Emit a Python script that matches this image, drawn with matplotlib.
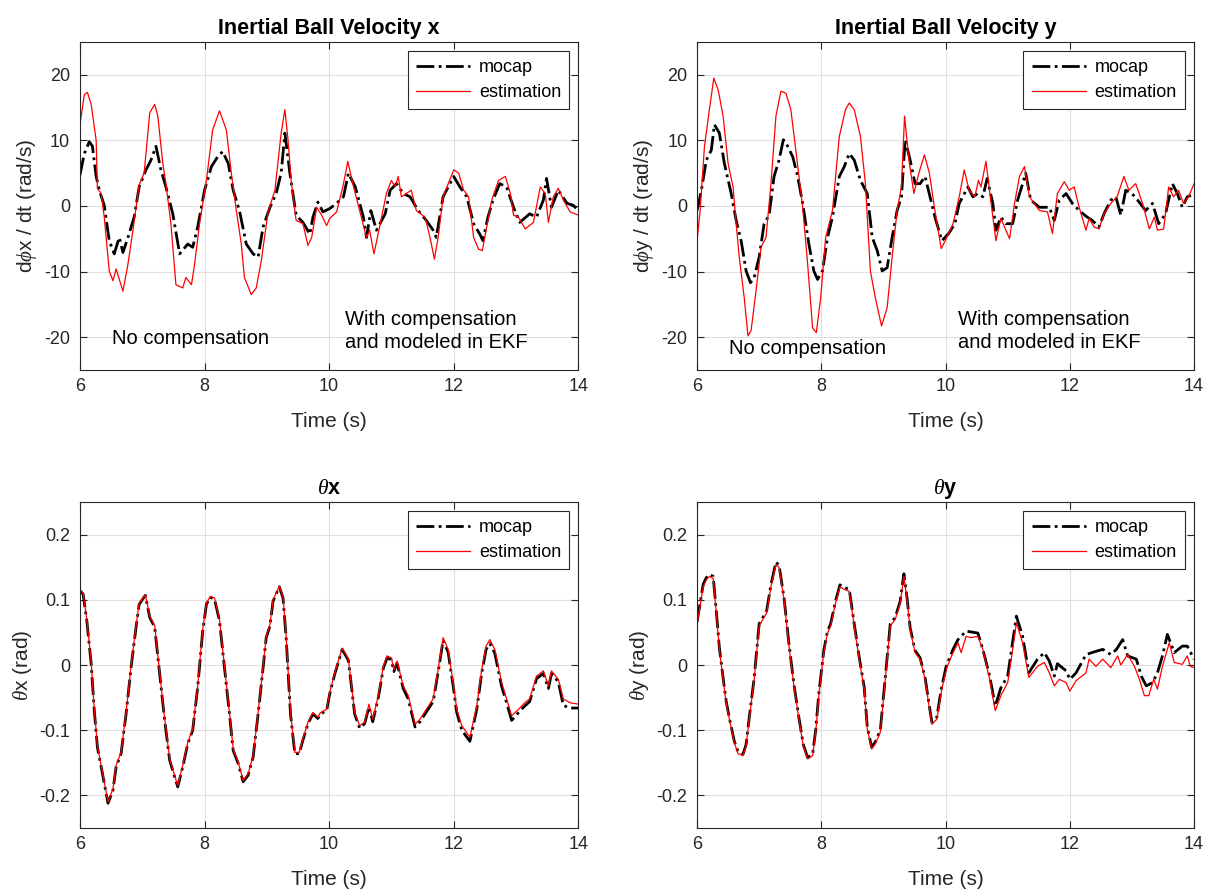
import numpy as np
import matplotlib
matplotlib.use("Agg")
from matplotlib import pyplot as plt

plt.rcParams["font.family"] = ["Liberation Sans", "DejaVu Sans"]
plt.rcParams["axes.unicode_minus"] = False
plt.rcParams["mathtext.fontset"] = "custom"
plt.rcParams["mathtext.it"] = "Liberation Serif:italic"
plt.rcParams["mathtext.rm"] = "Liberation Sans"

# ---- ball velocity x (rad/s) ----
t_vx_est = [6.0, 6.07, 6.12, 6.18, 6.26, 6.28, 6.34, 6.39, 6.47, 6.53, 6.58, 6.69, 6.77, 6.85,
            6.95, 7.03, 7.12, 7.2, 7.25, 7.33, 7.38, 7.46, 7.54, 7.65, 7.7, 7.79, 7.84, 7.92,
            8.03, 8.13, 8.24, 8.35, 8.43, 8.51, 8.59, 8.64, 8.75, 8.83, 8.91, 9.02, 9.13, 9.23,
            9.29, 9.34, 9.39, 9.47, 9.58, 9.66, 9.72, 9.8, 9.88, 9.96, 10.01, 10.12, 10.22, 10.3,
            10.38, 10.49, 10.6, 10.65, 10.72, 10.81, 10.92, 11.0, 11.06, 11.11, 11.16, 11.24,
            11.32, 11.4, 11.54, 11.62, 11.69, 11.75, 11.83, 12.0, 12.08, 12.16, 12.24, 12.32,
            12.4, 12.46, 12.53, 12.61, 12.72, 12.83, 12.91, 12.96, 13.04, 13.15, 13.28, 13.39,
            13.47, 13.52, 13.6, 13.68, 13.76, 13.87, 14.0]
vx_est = [12.4, 17.0, 17.3, 15.5, 10.0, 2.7, 1.9, -1.7, -9.9, -11.4, -9.6, -13.0, -8.9, -3.7,
          3.2, 5.0, 14.2, 15.5, 13.7, 6.5, 3.4, -2.7, -12.0, -12.5, -10.9, -12.0, -8.9, -2.7,
          3.9, 11.6, 14.5, 11.6, 5.0, -0.7, -5.8, -10.9, -13.5, -12.5, -8.4, -0.9, 2.4, 11.1,
          14.7, 10.1, 3.9, -2.2, -2.7, -6.0, -4.8, -0.2, -1.4, -3.0, -1.9, -0.9, 2.9, 6.8,
          3.4, -0.7, -4.8, -3.7, -7.3, -3.2, 1.9, 3.9, 2.9, 4.5, 1.4, 1.9,
          2.4, -0.7, -1.7, -4.8, -8.1, -4.8, 1.4, 5.5, 5.0, 2.4, 1.4, -4.8,
          -6.6, -6.8, -3.2, 0.9, 3.9, 4.5, 1.9, -1.4, -1.7, -3.5, -2.5, 2.9,
          1.9, -2.5, 1.4, 2.7, 0.9, -0.9, -1.4]

t_vx_moc = [6.0, 6.07, 6.15, 6.2, 6.26, 6.31, 6.39, 6.47, 6.55, 6.63, 6.69, 6.77, 6.87, 6.95,
            7.06, 7.14, 7.22, 7.3, 7.38, 7.49, 7.6, 7.73, 7.81, 7.89, 8.0, 8.11, 8.21, 8.29,
            8.38, 8.46, 8.56, 8.67, 8.78, 8.86, 8.94, 9.05, 9.15, 9.23, 9.29, 9.37, 9.47, 9.58,
            9.69, 9.74, 9.82, 9.9, 10.01, 10.12, 10.23, 10.31, 10.42, 10.55, 10.6, 10.67, 10.76,
            10.9, 10.98, 11.08, 11.19, 11.3, 11.43, 11.56, 11.67, 11.72, 11.83, 12.0, 12.1,
            12.21, 12.32, 12.42, 12.47, 12.55, 12.63, 12.74, 12.85, 12.96, 13.06, 13.22, 13.33,
            13.44, 13.49, 13.57, 13.68, 13.82, 13.92, 14.0]
vx_moc = [4.7, 8.0, 9.8, 9.1, 4.5, 2.4, 0.1, -5.3, -7.3, -4.8, -7.1, -4.8, -1.7, 2.9,
          5.5, 7.0, 9.1, 5.5, 2.9, -1.2, -7.3, -5.8, -6.3, -3.2, 2.4, 6.0, 7.5, 8.3,
          6.5, 2.4, -0.7, -5.8, -7.3, -7.8, -3.2, -0.2, 1.9, 5.0, 11.1, 5.0, -1.4, -2.5,
          -4.3, -1.7, 0.6, -0.9, -0.4, 0.4, 1.4, 5.0, 2.9, -1.7, -4.8, -0.7, -3.7,
          -1.2, 2.4, 3.4, 1.9, 1.4, -0.7, -2.2, -3.7, -4.8, 1.4, 4.5, 2.9,
          1.4, -2.7, -4.3, -5.3, -1.7, 0.9, 3.4, 2.9, -0.2, -2.5, -1.2, -1.7,
          0.9, 4.2, -0.2, 2.4, 0.4, 0.1, -0.7]

# ---- ball velocity y (rad/s) ----
t_vy_est = [6.0, 6.05, 6.12, 6.2, 6.27, 6.34, 6.42, 6.5, 6.58, 6.63, 6.68, 6.76, 6.82, 6.87,
            6.95, 7.03, 7.11, 7.19, 7.27, 7.35, 7.43, 7.51, 7.59, 7.7, 7.78, 7.86, 7.92, 7.99,
            8.07, 8.18, 8.29, 8.39, 8.45, 8.53, 8.63, 8.71, 8.79, 8.87, 8.97, 9.06, 9.14, 9.22,
            9.29, 9.34, 9.41, 9.49, 9.57, 9.66, 9.74, 9.82, 9.93, 10.01, 10.12, 10.22, 10.3,
            10.38, 10.47, 10.53, 10.57, 10.65, 10.72, 10.81, 10.89, 11.03, 11.11, 11.19, 11.27,
            11.35, 11.51, 11.64, 11.72, 11.8, 11.91, 11.99, 12.07, 12.15, 12.26, 12.31, 12.39,
            12.47, 12.55, 12.66, 12.76, 12.87, 12.95, 13.06, 13.17, 13.28, 13.36, 13.41, 13.51,
            13.59, 13.67, 13.75, 13.83, 13.91, 14.0]
vy_est = [-5.3, -0.7, 9.1, 14.7, 19.5, 17.7, 13.7, 6.5, 2.9, -2.7, -7.8, -14.0, -19.8, -19.0,
          -12.9, -6.3, -4.8, 3.4, 13.7, 17.5, 17.2, 14.7, 8.5, -0.2, -8.8, -18.6, -19.3, -14.0,
          -4.8, -0.7, 10.6, 14.7, 15.7, 14.7, 10.6, 3.4, -9.9, -14.0, -18.3, -15.5, -7.8, -0.7,
          2.9, 13.7, 7.0, 1.9, 5.0, 7.8, 5.0, -0.2, -6.5, -5.0, -2.7, 1.4, 5.5,
          2.4, 1.4, 3.9, 2.9, 6.8, 1.4, -5.3, -1.9, -5.0, 0.4, 4.5, 6.0,
          1.4, -0.7, -0.9, -4.2, 1.9, 3.7, 2.4, 2.9, -0.2, -3.7, -1.9, -3.2,
          -3.5, -1.2, 0.4, 1.4, 4.5, 2.4, 3.4, 0.4, -3.5, -1.7, -3.7, -3.5,
          2.9, 1.4, 2.4, 0.4, 1.4, 3.4]

t_vy_moc = [6.0, 6.07, 6.15, 6.23, 6.28, 6.36, 6.44, 6.55, 6.63, 6.71, 6.79, 6.86, 6.92, 7.0,
            7.08, 7.16, 7.24, 7.32, 7.39, 7.46, 7.54, 7.62, 7.7, 7.8, 7.88, 7.94, 8.02, 8.1,
            8.18, 8.29, 8.37, 8.45, 8.53, 8.63, 8.74, 8.82, 8.9, 8.98, 9.06, 9.14, 9.22, 9.29,
            9.35, 9.43, 9.51, 9.59, 9.67, 9.75, 9.83, 9.94, 10.05, 10.15, 10.22, 10.36, 10.44,
            10.52, 10.6, 10.67, 10.76, 10.81, 10.89, 10.97, 11.08, 11.16, 11.24, 11.29, 11.37,
            11.51, 11.67, 11.75, 11.83, 11.94, 12.04, 12.15, 12.28, 12.36, 12.47, 12.55, 12.66,
            12.74, 12.82, 12.9, 13.0, 13.09, 13.22, 13.33, 13.43, 13.54, 13.65, 13.73, 13.81,
            13.89, 13.95]
vy_moc = [-0.7, 2.4, 7.0, 8.5, 12.4, 11.1, 6.5, 1.9, -2.2, -5.3, -9.9, -11.7, -10.9, -7.8,
          -2.7, -1.4, 4.5, 7.0, 10.1, 9.1, 7.5, 4.5, 0.4, -5.8, -9.9, -11.2, -9.9, -4.8,
          -1.7, 4.5, 6.0, 8.0, 7.0, 3.9, 1.9, -4.8, -6.8, -9.9, -9.4, -4.8, -0.7, 1.4,
          10.1, 7.0, 3.4, 3.4, 4.5, 1.4, -1.7, -5.3, -4.2, -2.7, 0.4, 2.9, 1.4,
          1.9, 1.4, 4.2, 0.4, -3.7, -1.7, -2.7, -2.7, 0.9, 3.4, 5.0, 0.9,
          -0.2, -0.2, -2.2, 0.9, 1.9, 0.4, -0.7, -1.7, -2.2, -3.2, -1.2, 0.9,
          1.4, -1.4, 2.4, 1.9, 0.9, -0.7, 0.4, -2.7, -1.2, 3.4, 1.9, -0.2,
          1.4, 1.6]

# ---- theta x (rad) ----
t_thx_est = [6.0, 6.05, 6.11, 6.18, 6.23, 6.28, 6.36, 6.45, 6.53, 6.58, 6.66, 6.74, 6.82, 6.9,
             6.95, 7.05, 7.12, 7.2, 7.28, 7.36, 7.44, 7.49, 7.57, 7.65, 7.73, 7.81, 7.89, 7.97,
             8.03, 8.09, 8.16, 8.24, 8.32, 8.4, 8.46, 8.54, 8.62, 8.7, 8.78, 8.86, 8.94, 8.99,
             9.05, 9.1, 9.2, 9.26, 9.31, 9.38, 9.45, 9.52, 9.58, 9.66, 9.74, 9.82, 9.86, 9.96,
             10.01, 10.09, 10.14, 10.21, 10.31, 10.36, 10.41, 10.49, 10.57, 10.64, 10.7, 10.79,
             10.87, 10.93, 11.0, 11.04, 11.09, 11.19, 11.27, 11.38, 11.46, 11.56, 11.67, 11.75,
             11.83, 11.91, 11.99, 12.05, 12.13, 12.26, 12.37, 12.45, 12.52, 12.58, 12.66, 12.77,
             12.85, 12.93, 13.04, 13.14, 13.22, 13.33, 13.44, 13.52, 13.57, 13.68, 13.76, 13.87,
             14.0]
thx_est = [0.116, 0.11, 0.07, 0.004, -0.068, -0.124, -0.164, -0.21, -0.19, -0.154, -0.134,
           -0.073, -0.002, 0.06, 0.095, 0.108, 0.075, 0.06, -0.012, -0.083, -0.144, -0.16,
           -0.185, -0.154, -0.119, -0.098, -0.032, 0.054, 0.095, 0.105, 0.103, 0.07, -0.002,
           -0.073, -0.129, -0.149, -0.177, -0.167, -0.139, -0.073, -0.002, 0.044, 0.062, 0.1,
           0.121, 0.105, 0.044, -0.073, -0.134, -0.134, -0.113, -0.088, -0.073, -0.08, -0.073,
           -0.068, -0.042, -0.012, 0.004, 0.026, 0.009, -0.032, -0.073, -0.093, -0.088, -0.06,
           -0.083, -0.047, -0.002, 0.014, 0.011, -0.007, 0.006, -0.032, -0.047, -0.091, -0.083,
           -0.068, -0.052, -0.007, 0.042, 0.024, -0.027, -0.068, -0.093, -0.111, -0.063, -0.007,
           0.029, 0.039, 0.024, -0.027, -0.052, -0.078, -0.068, -0.058, -0.052, -0.017, -0.009,
           -0.032, -0.009, -0.022, -0.052, -0.058, -0.06]

t_thx_moc = [6.0, 6.05, 6.11, 6.18, 6.23, 6.28, 6.36, 6.45, 6.53, 6.58, 6.66, 6.74, 6.82, 6.9,
             6.95, 7.05, 7.12, 7.2, 7.28, 7.36, 7.44, 7.49, 7.57, 7.65, 7.73, 7.81, 7.89, 7.97,
             8.03, 8.09, 8.16, 8.24, 8.32, 8.4, 8.46, 8.54, 8.62, 8.7, 8.78, 8.86, 8.94, 8.99,
             9.05, 9.1, 9.2, 9.26, 9.31, 9.38, 9.45, 9.52, 9.58, 9.66, 9.74, 9.82, 9.86, 9.96,
             10.01, 10.09, 10.14, 10.21, 10.31, 10.36, 10.41, 10.49, 10.57, 10.64, 10.7, 10.79,
             10.87, 10.93, 11.0, 11.04, 11.09, 11.19, 11.27, 11.38, 11.46, 11.56, 11.67, 11.75,
             11.83, 11.91, 11.99, 12.05, 12.13, 12.26, 12.37, 12.45, 12.52, 12.58, 12.66, 12.77,
             12.85, 12.93, 13.04, 13.14, 13.22, 13.33, 13.44, 13.52, 13.57, 13.68, 13.76, 13.87,
             14.0]
thx_moc = [0.114, 0.109, 0.068, 0.002, -0.07, -0.126, -0.166, -0.212, -0.192, -0.156, -0.136,
           -0.075, -0.004, 0.058, 0.093, 0.107, 0.073, 0.058, -0.014, -0.085, -0.146, -0.162,
           -0.187, -0.156, -0.121, -0.1, -0.034, 0.052, 0.093, 0.104, 0.101, 0.068, -0.004,
           -0.075, -0.131, -0.151, -0.179, -0.169, -0.141, -0.075, -0.004, 0.042, 0.06, 0.098,
           0.12, 0.103, 0.042, -0.075, -0.136, -0.136, -0.115, -0.09, -0.075, -0.082, -0.075,
           -0.07, -0.044, -0.014, 0.002, 0.024, 0.007, -0.034, -0.075, -0.097, -0.09, -0.064,
           -0.087, -0.05, -0.005, 0.011, 0.008, -0.01, 0.003, -0.036, -0.052, -0.095, -0.087,
           -0.072, -0.056, -0.011, 0.038, 0.02, -0.031, -0.073, -0.1, -0.117, -0.068, -0.012,
           0.024, 0.033, 0.018, -0.033, -0.058, -0.085, -0.073, -0.063, -0.056, -0.021, -0.013,
           -0.036, -0.013, -0.026, -0.062, -0.066, -0.066]

# ---- theta y (rad) ----
t_thy_est = [6.0, 6.04, 6.1, 6.15, 6.2, 6.26, 6.31, 6.36, 6.42, 6.47, 6.52, 6.6, 6.66, 6.74,
             6.79, 6.84, 6.92, 7.0, 7.06, 7.12, 7.19, 7.27, 7.32, 7.4, 7.48, 7.56, 7.64, 7.71,
             7.78, 7.86, 7.91, 7.96, 8.04, 8.1, 8.15, 8.23, 8.3, 8.37, 8.45, 8.53, 8.61, 8.69,
             8.74, 8.81, 8.87, 8.95, 9.03, 9.11, 9.19, 9.27, 9.33, 9.38, 9.43, 9.51, 9.59, 9.67,
             9.75, 9.78, 9.86, 9.94, 10.02, 10.12, 10.2, 10.25, 10.33, 10.41, 10.52, 10.6, 10.71,
             10.8, 10.89, 11.0, 11.08, 11.14, 11.24, 11.34, 11.48, 11.59, 11.67, 11.75, 11.83,
             11.94, 12.0, 12.1, 12.26, 12.31, 12.42, 12.53, 12.66, 12.77, 12.82, 12.93, 13.04,
             13.12, 13.2, 13.27, 13.35, 13.41, 13.49, 13.6, 13.68, 13.81, 13.89, 13.94, 14.0]
thy_est = [0.062, 0.085, 0.12, 0.131, 0.136, 0.133, 0.08, 0.024, -0.022, -0.058, -0.083,
           -0.119, -0.136, -0.139, -0.124, -0.083, -0.022, 0.06, 0.07, 0.08, 0.12, 0.154, 0.15,
           0.1, 0.029, -0.032, -0.083, -0.124, -0.144, -0.139, -0.103, -0.047, 0.019, 0.049,
           0.06, 0.095, 0.12, 0.116, 0.113, 0.06, 0.009, -0.037, -0.098, -0.129, -0.121, -0.103,
           -0.022, 0.06, 0.07, 0.095, 0.136, 0.1, 0.054, 0.019, 0.009, -0.022, -0.073, -0.091,
           -0.083, -0.037, -0.004, 0.019, 0.034, 0.019, 0.044, 0.042, 0.044, 0.024, -0.022,
           -0.07, -0.047, -0.027, 0.024, 0.065, 0.034, -0.019, -0.002, 0.004, -0.012, -0.032,
           -0.022, -0.027, -0.04, -0.024, -0.012, 0.009, -0.002, 0.009, -0.004, 0.014, 0.0,
           0.016, -0.002, -0.022, -0.047, -0.047, -0.022, -0.037, -0.002, 0.034, 0.004, 0.001,
           0.014, -0.002, -0.004]

t_thy_moc = [6.0, 6.04, 6.1, 6.15, 6.2, 6.26, 6.31, 6.36, 6.42, 6.47, 6.52, 6.6, 6.66, 6.74,
             6.79, 6.84, 6.92, 7.0, 7.06, 7.12, 7.19, 7.27, 7.32, 7.4, 7.48, 7.56, 7.64, 7.71,
             7.78, 7.86, 7.91, 7.96, 8.04, 8.1, 8.15, 8.23, 8.3, 8.37, 8.45, 8.53, 8.61, 8.69,
             8.74, 8.81, 8.87, 8.95, 9.03, 9.11, 9.19, 9.27, 9.33, 9.38, 9.43, 9.51, 9.59, 9.67,
             9.75, 9.78, 9.86, 9.93, 10.01, 10.12, 10.2, 10.33, 10.52, 10.6, 10.71, 10.8, 10.89,
             11.0, 11.14, 11.24, 11.34, 11.48, 11.59, 11.67, 11.75, 11.8, 11.94, 12.0, 12.1,
             12.26, 12.42, 12.53, 12.66, 12.75, 12.85, 12.93, 13.07, 13.15, 13.23, 13.33, 13.41,
             13.49, 13.57, 13.68, 13.81, 13.89, 14.0]
thy_moc = [0.066, 0.089, 0.124, 0.134, 0.139, 0.136, 0.083, 0.026, -0.02, -0.056, -0.081,
           -0.117, -0.133, -0.137, -0.122, -0.081, -0.02, 0.063, 0.073, 0.083, 0.123, 0.158,
           0.153, 0.103, 0.032, -0.03, -0.081, -0.122, -0.142, -0.137, -0.1, -0.044, 0.022,
           0.052, 0.063, 0.098, 0.123, 0.119, 0.116, 0.063, 0.012, -0.034, -0.095, -0.126,
           -0.118, -0.1, -0.019, 0.063, 0.073, 0.098, 0.14, 0.103, 0.057, 0.022, 0.011, -0.019,
           -0.07, -0.088, -0.08, -0.037, -0.002, 0.024, 0.039, 0.052, 0.049, 0.024, -0.017,
           -0.063, -0.035, -0.017, 0.075, 0.044, -0.012, 0.009, 0.019, 0.006, -0.017, 0.002,
           -0.009, -0.022, -0.012, 0.016, 0.021, 0.024, 0.016, 0.024, 0.039, 0.014, 0.009,
           -0.017, -0.032, -0.027, -0.012, 0.014, 0.047, 0.019, 0.029, 0.029, 0.009]

panels = [
    ("Inertial Ball Velocity x", r"d$\it{\phi}$x / dt (rad/s)", t_vx_moc, vx_moc, t_vx_est, vx_est),
    ("Inertial Ball Velocity y", r"d$\it{\phi}$y / dt (rad/s)", t_vy_moc, vy_moc, t_vy_est, vy_est),
    (r"$\it{\theta}$x", r"$\it{\theta}$x (rad)", t_thx_moc, thx_moc, t_thx_est, thx_est),
    (r"$\it{\theta}$y", r"$\it{\theta}$y (rad)", t_thy_moc, thy_moc, t_thy_est, thy_est),
]

fig = plt.figure(figsize=(12.08, 8.93), dpi=100)
boxes = [[0.0662, 0.5857, 0.4125, 0.3673], [0.5770, 0.5857, 0.4115, 0.3673],
         [0.0662, 0.0728, 0.4125, 0.3650], [0.5770, 0.0728, 0.4115, 0.3650]]

for i, (title, ylab, tm, ym, te, ye) in enumerate(panels):
    ax = fig.add_axes(boxes[i])
    ax.plot(tm, ym, color="black", linestyle="-.", linewidth=2, label="mocap")
    ax.plot(te, ye, color="red", linewidth=0.9, label="estimation")
    ax.set_xlim(6, 14)
    ax.set_xticks([6, 8, 10, 12, 14])
    if i < 2:
        ax.set_ylim(-25, 25)
        ax.set_yticks([-20, -10, 0, 10, 20])
    else:
        ax.set_ylim(-0.25, 0.25)
        ax.set_yticks([-0.2, -0.1, 0, 0.1, 0.2])
        ax.set_yticklabels(["-0.2", "-0.1", "0", "0.1", "0.2"])
    ax.grid(True, color="#dfdfdf", linewidth=0.8)
    ax.set_axisbelow(True)
    ax.tick_params(direction="in", top=True, right=True, labelsize=13, colors="#262626",
                   length=5, pad=7)
    ax.tick_params(axis="x", pad=6)
    for s in ax.spines.values():
        s.set_color("#262626")
        s.set_linewidth(0.8)
    ax.set_title(title, fontsize=15.5, fontweight="bold", pad=6)
    ax.set_xlabel("Time (s)", fontsize=15, color="#262626", labelpad=12)
    ax.set_ylabel(ylab, fontsize=15, color="#262626", labelpad=4)
    leg = ax.legend(loc="upper right", fontsize=13, fancybox=False, framealpha=1,
                    edgecolor="#262626", handlelength=3.0, borderaxespad=0.5,
                    borderpad=0.45, labelspacing=0.45, handletextpad=0.5)
    leg.get_frame().set_linewidth(0.8)

    if i == 0:
        ax.text(6.52, -20.2, "No compensation", fontsize=14.5, va="center")
        ax.text(10.26, -19.1, "With compensation\nand modeled in EKF", fontsize=14.5,
                va="center", linespacing=1.25)
    elif i == 1:
        ax.text(6.52, -21.7, "No compensation", fontsize=14.5, va="center")
        ax.text(10.2, -19.1, "With compensation\nand modeled in EKF", fontsize=14.5,
                va="center", linespacing=1.25)

plt.savefig("out.png", dpi=100)
